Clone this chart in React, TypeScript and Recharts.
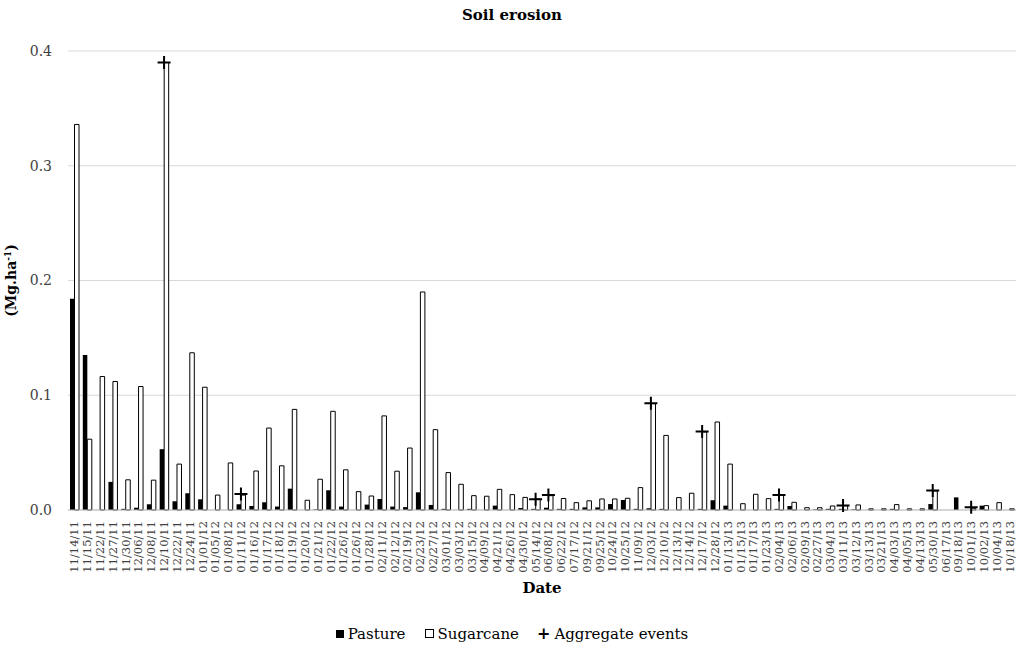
import { ComposedChart, Bar, Line, XAxis, YAxis, CartesianGrid } from "recharts"

const dates = [
  "11/14/11", "11/15/11", "11/22/11", "11/27/11", "11/30/11", "12/06/11", "12/08/11", "12/10/11", "12/22/11", "12/24/11",
  "01/01/12", "01/05/12", "01/08/12", "01/11/12", "01/16/12", "01/17/12", "01/18/12", "01/19/12", "01/20/12", "01/21/12",
  "01/22/12", "01/26/12", "01/26/12", "01/28/12", "02/11/12", "02/12/12", "02/19/12", "02/23/12", "02/27/12", "03/01/12",
  "03/03/12", "03/15/12", "04/09/12", "04/21/12", "04/26/12", "04/30/12", "05/14/12", "06/08/12", "06/22/12", "07/17/12",
  "09/21/12", "09/25/12", "10/24/12", "10/25/12", "11/09/12", "12/03/12", "12/10/12", "12/13/12", "12/14/12", "12/17/12",
  "12/28/12", "01/13/13", "01/15/13", "01/17/13", "01/23/13", "02/04/13", "02/06/13", "02/09/13", "02/27/13", "03/04/13",
  "03/11/13", "03/12/13", "03/13/13", "03/21/13", "04/03/13", "04/05/13", "04/13/13", "05/30/13", "06/17/13", "09/18/13",
  "10/01/13", "10/02/13", "10/04/13", "10/18/13",
]

const pasture = [
  0.184, 0.135, 0, 0.0245, 0.001, 0.002, 0.005, 0.053, 0.0076, 0.0146,
  0.0093, 0, 0, 0.005, 0.0035, 0.0067, 0.003, 0.0186, 0, 0.0005,
  0.0172, 0.003, 0, 0.0047, 0.0096, 0.003, 0.0025, 0.0154, 0.0044, 0.001,
  0, 0.001, 0, 0.0038, 0, 0.0017, 0.001, 0.002, 0.001, 0.001,
  0.0023, 0.0023, 0.0052, 0.0087, 0.001, 0.0015, 0.001, 0, 0, 0.001,
  0.0085, 0.0038, 0, 0, 0, 0.001, 0.0035, 0, 0.0005, 0.001,
  0.001, 0.0005, 0, 0, 0.001, 0, 0, 0.0052, 0, 0.011,
  0, 0.0038, 0, 0,
]

const sugarcane = [
  0.336, 0.0617, 0.1163, 0.112, 0.0263, 0.1076, 0.026, 0.39, 0.04, 0.137,
  0.107, 0.013, 0.041, 0.013, 0.034, 0.0714, 0.0385, 0.0877, 0.0085, 0.0268,
  0.086, 0.035, 0.016, 0.0122, 0.082, 0.0338, 0.054, 0.19, 0.07, 0.0326,
  0.0224, 0.0125, 0.012, 0.018, 0.0134, 0.011, 0.0096, 0.0125, 0.01, 0.0064,
  0.008, 0.0096, 0.0096, 0.0102, 0.0195, 0.0927, 0.065, 0.0108, 0.0146, 0.068,
  0.0767, 0.04, 0.0055, 0.0137, 0.0099, 0.013, 0.0067, 0.002, 0.002, 0.0035,
  0.0038, 0.0044, 0.001, 0.001, 0.0047, 0.001, 0.001, 0.0166, 0, 0,
  0.0015, 0.0038, 0.0064, 0.001,
]

// aggregate events: index in dates -> value
const aggIndex = [7, 13, 36, 37, 45, 49, 55, 60, 67, 70]
const aggValue = [0.39, 0.014, 0.0093, 0.013, 0.093, 0.0685, 0.013, 0.004, 0.017, 0.0023]

const yTicks = [0, 0.1, 0.2, 0.3, 0.4]

const data = dates.map((d, i) => {
  const k = aggIndex.indexOf(i)
  return {
    date: d,
    pasture: pasture[i],
    sugarcane: sugarcane[i],
    agg: k >= 0 ? aggValue[k] : null,
  }
})

const FONT = "'Palatino Linotype', 'Book Antiqua', Palatino, 'DejaVu Serif', serif"

function DateTick({ x, y, payload }: any) {
  return (
    <text
      x={0}
      y={0}
      transform={`translate(${x + 4},${y + 3}) rotate(-90)`}
      textAnchor="end"
      fontSize={11.5}
      fontFamily={FONT}
      fill="#404040"
    >
      {payload.value}
    </text>
  )
}

function Cross(props: any) {
  const { cx, cy, value, index } = props
  if (value == null || cy == null) return <g key={index} />
  return (
    <path
      key={index}
      d={`M${cx - 6.5},${cy}H${cx + 6.5}M${cx},${cy - 6.5}V${cy + 6.5}`}
      stroke="#000"
      strokeWidth={2}
    />
  )
}

function YLabel({ viewBox }: any) {
  const cx = 16
  const cy = viewBox.y + viewBox.height / 2
  return (
    <text
      transform={`translate(${cx},${cy}) rotate(-90)`}
      textAnchor="middle"
      fontSize={14}
      fontWeight="bold"
      fontFamily={FONT}
      fill="#000"
    >
      (Mg.ha<tspan dy={-5} fontSize={9}>-1</tspan>
      <tspan dy={5}>)</tspan>
    </text>
  )
}

export default function App() {
  return (
    <div style={{ position: "absolute", left: 0, top: 0, width: 1024, height: 647, background: "#fff", fontFamily: FONT }}>
      <div style={{ position: "absolute", top: 6, left: 0, width: 1024, textAlign: "center", fontWeight: "bold", fontSize: 15 }}>
        Soil erosion
      </div>
      <ComposedChart
        width={1024}
        height={647}
        data={data}
        margin={{ top: 51, right: 8, left: 18, bottom: 47 }}
        barGap={0}
      >
        <CartesianGrid vertical={false} stroke="#d9d9d9" />
        <XAxis
          dataKey="date"
          interval={0}
          height={90}
          tick={<DateTick />}
          tickLine={false}
          axisLine={{ stroke: "#bfbfbf" }}
          label={{ value: "Date", position: "insideBottom", offset: 7, fontWeight: "bold", fontSize: 15, fill: "#000", fontFamily: FONT }}
        />
        <YAxis
          domain={[0, 0.4]}
          ticks={yTicks}
          width={50}
          tickFormatter={(v: number) => v.toFixed(1)}
          tick={{ fontSize: 14, fill: "#404040", fontFamily: FONT }}
          tickLine={false}
          axisLine={false}
          tickMargin={10}
          label={<YLabel />}
        />
        <Bar dataKey="pasture" fill="#000" barSize={4.5} isAnimationActive={false} />
        <Bar dataKey="sugarcane" fill="#fff" stroke="#000" strokeWidth={1} barSize={4.5} isAnimationActive={false} />
        <Line dataKey="agg" stroke="none" dot={Cross} activeDot={false} isAnimationActive={false} />
      </ComposedChart>
      <div
        style={{
          position: "absolute",
          top: 624,
          left: 0,
          width: 1024,
          display: "flex",
          justifyContent: "center",
          alignItems: "center",
          fontSize: 15,
          color: "#000",
        }}
      >
        <span style={{ display: "inline-block", width: 8, height: 8, background: "#000", marginRight: 4 }} />
        <span style={{ marginRight: 20 }}>Pasture</span>
        <span style={{ display: "inline-block", width: 7, height: 7, border: "1px solid #000", marginRight: 3 }} />
        <span style={{ marginRight: 18 }}>Sugarcane</span>
        <span style={{ fontWeight: "bold", marginRight: 4, fontSize: 16 }}>+</span>
        <span>Aggregate events</span>
      </div>
    </div>
  )
}
